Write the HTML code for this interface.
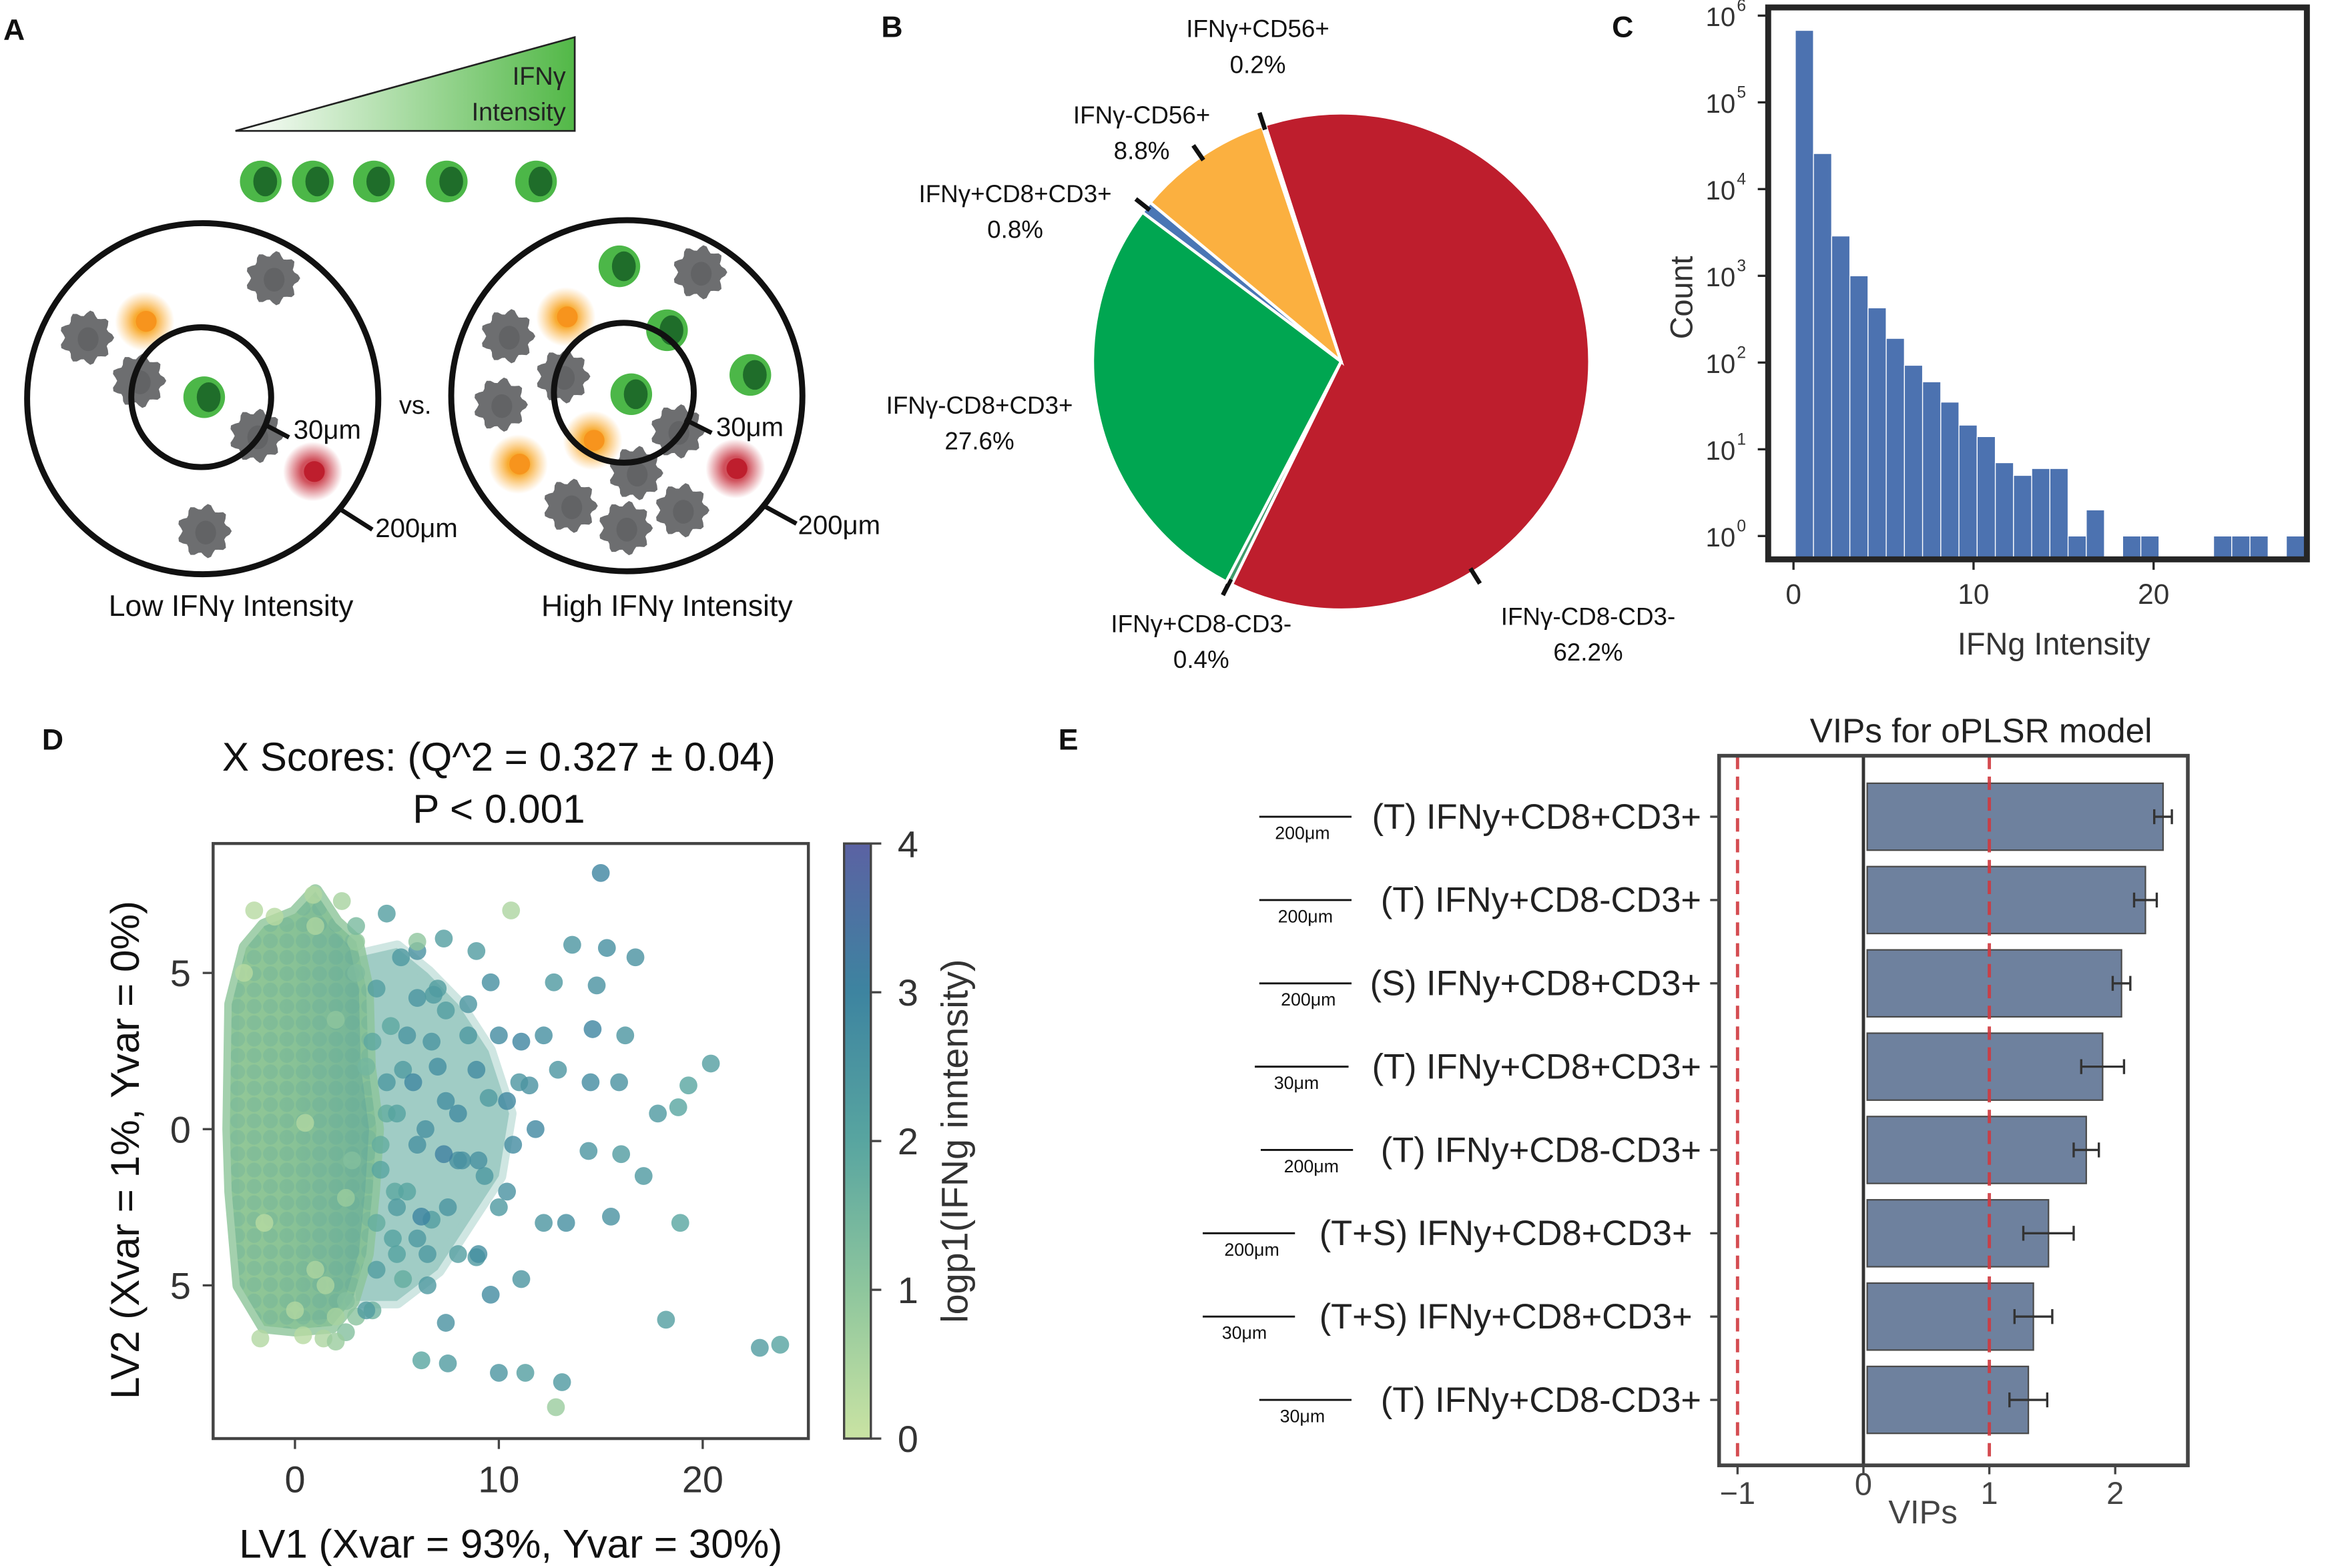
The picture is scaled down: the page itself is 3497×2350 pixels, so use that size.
<!DOCTYPE html>
<html><head><meta charset="utf-8">
<style>
html,body{margin:0;padding:0;background:#fff;}
svg{display:block;font-family:"Liberation Sans",Arial,sans-serif;}
</style></head>
<body>
<svg id="fig" width="3497" height="2350" viewBox="0 0 1568 1054" xmlns="http://www.w3.org/2000/svg">
<defs>
<linearGradient id="tri" x1="0" y1="0" x2="1" y2="0"><stop offset="0" stop-color="#fff"/><stop offset="1" stop-color="#52b847"/></linearGradient>
<radialGradient id="glowO"><stop offset="0.35" stop-color="#f7a21b" stop-opacity="0.9"/><stop offset="1" stop-color="#fbb040" stop-opacity="0"/></radialGradient>
<radialGradient id="glowR"><stop offset="0.4" stop-color="#c8323f" stop-opacity="0.85"/><stop offset="1" stop-color="#c8323f" stop-opacity="0"/></radialGradient>
<linearGradient id="cbar" x1="0" y1="1" x2="0" y2="0"><stop offset="0" stop-color="#c9e3a3"/><stop offset="0.25" stop-color="#8ec69d"/><stop offset="0.5" stop-color="#58a5a0"/><stop offset="0.75" stop-color="#3d84a0"/><stop offset="1" stop-color="#5b62a3"/></linearGradient>
<linearGradient id="coreG" x1="0" y1="0" x2="1" y2="0"><stop offset="0" stop-color="#93c897"/><stop offset="0.4" stop-color="#8ac396"/><stop offset="1" stop-color="#6fb198"/></linearGradient>
<pattern id="dots" width="11" height="11" patternUnits="userSpaceOnUse"><circle cx="5.5" cy="5.5" r="5" fill="#5aa59c" fill-opacity="0.25"/></pattern>
</defs>

<g font-weight="bold" font-size="20" fill="#111">
<text x="2" y="27">A</text>
<text x="592" y="25">B</text>
<text x="1083" y="25">C</text>
<text x="28" y="504">D</text>
<text x="711" y="504">E</text>
</g>

<!-- Panel A -->
<g id="panelA">
<polygon points="158,88 386,25 386,88" fill="url(#tri)" stroke="#222" stroke-width="1.2"/>
<text x="380" y="57" text-anchor="end" font-size="17" fill="#222">IFNγ</text>
<text x="380" y="81" text-anchor="end" font-size="17" fill="#222">Intensity</text>
<circle cx="136" cy="268" r="118" fill="none" stroke="#111" stroke-width="4"/>
<circle cx="421" cy="266" r="118" fill="none" stroke="#111" stroke-width="4"/>
<g id="cellsA"></g>
<circle cx="135" cy="267" r="47" fill="none" stroke="#111" stroke-width="4"/>
<circle cx="419" cy="264" r="47" fill="none" stroke="#111" stroke-width="4"/>
<g stroke="#111" stroke-width="3">
<line x1="177" y1="285" x2="194" y2="294"/><line x1="228" y1="342" x2="250" y2="356"/>
<line x1="460" y1="282" x2="478" y2="291"/><line x1="513" y1="340" x2="535" y2="352"/>
</g>
<g font-size="18" fill="#111">
<text x="197" y="295">30μm</text>
<text x="252" y="361">200μm</text>
<text x="481" y="293">30μm</text>
<text x="536" y="359">200μm</text>
<text x="268" y="278" font-size="17">vs.</text>
<text x="155" y="414" text-anchor="middle" font-size="20">Low IFNγ Intensity</text>
<text x="448" y="414" text-anchor="middle" font-size="20">High IFNγ Intensity</text>
</g>
</g>

<g id="panelB"></g>
<g id="panelC"></g>
<g id="panelD"></g>
<g id="panelE"></g>
</svg>

<script>
const NS="http://www.w3.org/2000/svg";
function mk(tag,attrs,parent,txt){const e=document.createElementNS(NS,tag);for(const k in attrs)e.setAttribute(k,attrs[k]);if(txt!==undefined)e.textContent=txt;parent.appendChild(e);return e;}

/* ---------- Panel A cells ---------- */
const greenCells=[[175,122],[210,122],[251,122],[300,122],[360,122],[137,267],[416,179],[448,222],[504,252],[424,265]];
const grayCells=[[183,187],[58,227],[93,256],[172,293],[137,357],[470,183],[341,226],[378,253],[336,272],[383,340],[420,355],[458,343],[427,318],[455,290]];
const orangeCells=[[97,216],[380,213],[398,296],[348,312]];
const redCells=[[210,317],[494,315]];
const gA=document.getElementById('cellsA');
grayCells.forEach(p=>{
  let pts=[];for(let i=0;i<48;i++){const a=i/48*Math.PI*2;const r=16.5+2*Math.cos(9*a);pts.push((p[0]+r*Math.cos(a)).toFixed(1)+','+(p[1]+r*Math.sin(a)).toFixed(1));}
  const e=mk('polygon',{points:pts.join(' '),fill:'#6d6e70'},gA);
  
  
  mk('ellipse',{cx:p[0]+1,cy:p[1]+1,rx:7,ry:8,fill:'#626365'},gA);
});
orangeCells.forEach(p=>{
  const e=mk('circle',{cx:p[0],cy:p[1],r:20,fill:'url(#glowO)'},gA);
  
  
  mk('circle',{cx:p[0]+1,cy:p[1],r:7,fill:'#f7941d'},gA);
});
redCells.forEach(p=>{
  const e=mk('circle',{cx:p[0],cy:p[1],r:20,fill:'url(#glowR)'},gA);
  
  
  mk('circle',{cx:p[0]+1,cy:p[1],r:7,fill:'#be1e2d'},gA);
});
greenCells.forEach(p=>{
  const e=mk('circle',{cx:p[0],cy:p[1],r:14,fill:'#4cb748'},gA);
  
  
  mk('ellipse',{cx:p[0]+3,cy:p[1],rx:8,ry:10,fill:'#1f6d2a'},gA);
});

/* ---------- Panel B pie ---------- */
const pieLabels=["IFNγ-CD8-CD3-","IFNγ+CD8-CD3-","IFNγ-CD8+CD3+","IFNγ+CD8+CD3+","IFNγ-CD56+","IFNγ+CD56+"];
const pieValues=[62.2,0.4,27.6,0.8,8.8,0.2];
const pieColors=["#be1e2d","#3f9a6a","#00a651","#4a76b5","#fbb040","#9aa8c8"];
const pieLabelPos=[[1067,420],[807,425],[658,278],[682,136],[767,83],[845,25]];
(function(){
  const g=document.getElementById('panelB');const cx=901,cy=243,R=167;
  let start=-17.8*Math.PI/180;const total=pieValues.reduce((a,b)=>a+b,0);
  const tickAng=[148,null,null,null,null,null];
  pieValues.forEach((v,i)=>{
    const sweep=v/total*2*Math.PI;const a0=start,a1=start+sweep;
    const x0=cx+R*Math.sin(a0),y0=cy-R*Math.cos(a0),x1=cx+R*Math.sin(a1),y1=cy-R*Math.cos(a1);
    const d=`M${cx},${cy} L${x0},${y0} A${R},${R} 0 ${sweep>Math.PI?1:0} 1 ${x1},${y1} Z`;
    const e=mk('path',{d:d,fill:pieColors[i],stroke:'#fff','stroke-width':2},g);
    
    
    const am=tickAng[i]!==null?tickAng[i]*Math.PI/180:(a0+a1)/2;
    if(i!==2){
      const tx0=cx+(R-3)*Math.sin(am),ty0=cy-(R-3)*Math.cos(am),tx1=cx+(R+9)*Math.sin(am),ty1=cy-(R+9)*Math.cos(am);
      mk('line',{x1:tx0,y1:ty0,x2:tx1,y2:ty1,stroke:'#111','stroke-width':3},g);
    }
    const p=pieLabelPos[i];
    const t=mk('text',{x:p[0],y:p[1],'text-anchor':'middle','font-size':16.5,fill:'#111'},g,pieLabels[i]);
    
    
    const t2=mk('text',{x:p[0],y:p[1]+24,'text-anchor':'middle','font-size':16.5,fill:'#111'},g,v.toFixed(1)+'%');
    
    
    start=a1;
  });
})();

/* ---------- Panel C histogram ---------- */
const histCounts=[676000,25700,2880,1000,427,190,93,60,35,19,14,7,5,6,6,1,2,0,1,1,0,0,0,1,1,1,0,1];
const histBinStart=0.1, histBinWidth=1.01;
const histXTicks=[0,10,20];
const histYTicks=[0,1,2,3,4,5,6];
(function(){
  const g=document.getElementById('panelC');
  const L=1188,T=5,Rr=1550,B=376;
  const xs=v=>1205+v*12.1, ys=lg=>360.3-lg*58.3;
  histCounts.forEach((c,i)=>{
    if(c<=0)return;
    const x0=xs(histBinStart+i*histBinWidth),x1=xs(histBinStart+(i+1)*histBinWidth);
    const y=ys(Math.log10(c));
    const e=mk('rect',{x:x0,y:y,width:x1-x0,height:B-y,fill:'#4c72b0',stroke:'#fff','stroke-width':0.6},g);
    
    
  });
  mk('rect',{x:L,y:T,width:Rr-L,height:B-T,fill:'none',stroke:'#262626','stroke-width':4},g);
  histXTicks.forEach(v=>{
    mk('line',{x1:xs(v),y1:B,x2:xs(v),y2:B+7,stroke:'#262626','stroke-width':1.5},g);
    const t=mk('text',{x:xs(v),y:406,'text-anchor':'middle','font-size':19,fill:'#333'},g,String(v));
    
    
  });
  histYTicks.forEach(k=>{
    mk('line',{x1:L-7,y1:ys(k),x2:L,y2:ys(k),stroke:'#262626','stroke-width':1.5},g);
    const t=mk('text',{x:1166,y:ys(k)+7,'text-anchor':'end','font-size':18,fill:'#333'},g,'10');
    
    
    mk('text',{x:1167,y:ys(k)-3,'font-size':11,fill:'#333'},g,String(k));
  });
  const xl=mk('text',{x:1380,y:440,'text-anchor':'middle','font-size':21,fill:'#333'},g,'IFNg Intensity');
  
  
  const yl=mk('text',{x:0,y:0,transform:'translate(1137,200) rotate(-90)','text-anchor':'middle','font-size':21,fill:'#333'},g,'Count');
  
  
})();

/* ---------- Panel D scatter ---------- */
const scX=[15,13.6,15.3,16.7,10.6,12.7,14.8,14.6,16.2,20.4,19.3,17.8,18.8,15.9,14.5,14.4,16,17.1,15.5,18.9,13.3,12.2,18.2,22.8,23.8,13.1,12.8,10,11.3,7.5,6.2,0.4,1.4,-1.7,7.4,9.6,11.1,8.9,10.4,11.8,11.1,9.6,7.3,6,4.5,0.9,2.3,8.9,10.4,8.2,6.7,5.3,3.8,8.9,12.2,12.9,11.5,10.7,9.3,7.4,6.7,5.3,4.2,4.9,6.4,7.4,6,4.7,3,5,2.5,4,6.5,8,3.5,2,5.5,7,3,4.5,6,2.8,9,10,8.5,1,-1,-2.5,0,2,3,1.5,-1.5,0.5,2.5,-2,1,4,5.5,4.5,6,5,7,8,7.5,6.5,4,9,8.5,5,3.8,4.2,6.8,5.8,7.3,6.2,4.8,3.5,2.5,5.2,9.5,8,10,11,6,3,2];
const scY=[8.2,5.9,5.8,5.5,7,4.7,4.6,3.2,3,2.1,1.4,0.5,0.7,1.5,1.5,-0.7,-0.8,-1.5,-2.8,-3,-3,-3,-6.1,-7,-6.9,-8.1,-8.9,-7.8,-7.8,-7.5,-7.4,-6.6,-6.7,-6.7,-6.2,-5.3,-4.8,-4.1,-2,0,2.8,4.7,6.1,5.7,6.9,7.5,7.3,1.9,0.9,-1,-2.9,-4.8,-5.8,5.7,3,1.9,1.4,-0.5,-1.5,0.9,2.8,1.9,-0.5,-2,0,3.8,4.2,3.3,5,-4,-5.5,-3,-5,-1,2,3.5,-2,4.5,-6,0.5,-3.5,-1,-4,3,4,6.5,6.8,5,-5.8,-6,6,-5,-3,0.2,-2.2,7,-4.5,4.5,3,1.5,-0.5,-2.5,2,0.5,-2.5,-4,-4.5,-1,3,0.5,2.8,-1.3,4.3,1.5,-0.8,-2.8,-3.5,-5.8,-6.5,5.5,1,-4,-2.5,1.5,6,6.5,-6.8];
const scC=[3,2.5,2.7,2.6,0.5,2.4,2.6,3,2.5,2.2,2,2.4,2,2.6,2.8,2.5,2.3,2.4,2.6,2,2.7,2.5,2.2,2.3,2.1,2.4,0.8,2.5,2.2,2.3,2,0.3,0.5,0.4,2.6,2.8,2.5,2.4,2.6,2.9,3,2.7,2.2,2.6,2.2,0.4,0.6,2.8,2.9,2.6,2.2,1.8,1.6,2.3,2.7,2.5,2.6,2.8,2.4,2.7,2.5,2.3,1.8,1.9,2.6,2.2,2.5,1.9,1.3,2.1,1.2,1.8,2.4,2.6,1.5,1,2,2.2,1.1,1.8,2.4,1.2,2.7,2.8,2.5,0.5,0.3,0.3,0.4,0.6,0.9,0.5,0.3,0.4,0.8,0.3,0.5,2.2,2.5,2.4,2.6,2.3,2.7,2.8,2.5,2.4,2.2,2.6,2.4,2.1,1.9,2,2.3,2.9,3.1,3,2.1,2.3,1.2,2.4,2.3,2.2,2.4,2.5,1,1.4,0.8];
const coreX=[-3.1,-2.4,-1.5,0,1,2,3,3.5,3.6,4,3.8,3.5,2.8,1.8,0,-1.5,-2.7,-3.1,-3.2];
const coreY=[4,5.8,6.5,6.9,7.6,6.6,6,4.5,2,0,-2,-4,-5.5,-6.3,-6.4,-6.3,-5,-2,0];
const tealX=[3,5,6.5,8,9.5,10.5,10,8.5,7,5,3,2.5];
const tealY=[5.5,5.8,5,4,2.5,0.5,-1.5,-3,-4.5,-5.5,-5.5,0];
const cbTicks=[0,1,2,3,4];
const dXTicks=[0,10,20];
const dYTicks=[5,0,-5];
function cmap(v){
  const stops=[[0,[201,227,163]],[1,[142,198,157]],[2,[88,165,160]],[3,[61,132,160]],[4,[91,98,163]]];
  v=Math.max(0,Math.min(4,v));const i=Math.min(3,Math.floor(v));const f=v-i;
  const a=stops[i][1],b=stops[i+1][1];
  return 'rgb('+a.map((c,k)=>Math.round(c+(b[k]-c)*f)).join(',')+')';
}
(function(){
  const g=document.getElementById('panelD');
  const L=143,T=567,Rr=543,B=967;
  const xs=v=>198+v*13.7, ys=v=>759-v*21;
  function poly(X,Y){let d='';X.forEach((x,i)=>{d+=(i?'L':'M')+xs(x).toFixed(1)+','+ys(Y[i]).toFixed(1);});return d+'Z';}
  const tp=poly(tealX,tealY);
  const tr=mk('path',{d:tp,fill:'#62aba0',opacity:0.6,stroke:'#62aba0','stroke-width':10,'stroke-linejoin':'round','stroke-opacity':0.5},g);
  
  
  const cp=poly(coreX,coreY);
  const cr=mk('path',{d:cp,fill:'url(#coreG)',stroke:'#8cc498','stroke-width':10,'stroke-linejoin':'round','stroke-opacity':0.8},g);
  
  
  mk('path',{d:cp,fill:'url(#dots)'},g);
  scX.forEach((x,i)=>{
    const e=mk('circle',{cx:xs(x),cy:ys(scY[i]),r:6,fill:cmap(scC[i]),opacity:0.8},g);
    
    
  });
  mk('rect',{x:L,y:T,width:Rr-L,height:B-T,fill:'none',stroke:'#444','stroke-width':2},g);
  dXTicks.forEach(v=>{
    mk('line',{x1:xs(v),y1:B,x2:xs(v),y2:B+7,stroke:'#444','stroke-width':1.5},g);
    const t=mk('text',{x:xs(v),y:1003,'text-anchor':'middle','font-size':25,fill:'#333'},g,String(v));
    
    
  });
  dYTicks.forEach(v=>{
    mk('line',{x1:L-7,y1:ys(v),x2:L,y2:ys(v),stroke:'#444','stroke-width':1.5},g);
    const t=mk('text',{x:128,y:ys(v)+9,'text-anchor':'end','font-size':25,fill:'#333'},g,String(Math.abs(v)));
    
    
  });
  const cb=mk('rect',{x:567,y:567,width:18,height:400,fill:'url(#cbar)',stroke:'#444','stroke-width':1.5},g);
  
  
  cbTicks.forEach(v=>{
    const y=967-v*100;
    mk('line',{x1:585,y1:y,x2:592,y2:y,stroke:'#444','stroke-width':1.5},g);
    const t=mk('text',{x:603,y:y+9,'font-size':25,fill:'#333'},g,String(v));
    
    
  });
  const cbl=mk('text',{x:0,y:0,transform:'translate(650,767) rotate(-90)','text-anchor':'middle','font-size':25,fill:'#333'},g,'logp1(IFNg inntensity)');
  
  
  const t1=mk('text',{x:335,y:518,'text-anchor':'middle','font-size':27,fill:'#111'},g,'X Scores: (Q^2 = 0.327 ± 0.04)');
  
  
  const t2=mk('text',{x:335,y:553,'text-anchor':'middle','font-size':27,fill:'#111'},g,'P < 0.001');
  
  
  const xl=mk('text',{x:343,y:1047,'text-anchor':'middle','font-size':27,fill:'#111'},g,'LV1 (Xvar = 93%, Yvar = 30%)');
  
  
  const yl=mk('text',{x:0,y:0,transform:'translate(93,773) rotate(-90)','text-anchor':'middle','font-size':27,fill:'#111'},g,'LV2 (Xvar = 1%, Yvar = 0%)');
  
  
})();

/* ---------- Panel E VIP bars ---------- */
const vipLabels=["(T) IFNy+CD8+CD3+","(T) IFNy+CD8-CD3+","(S) IFNy+CD8+CD3+","(T) IFNy+CD8+CD3+","(T) IFNy+CD8-CD3+","(T+S) IFNy+CD8+CD3+","(T+S) IFNy+CD8+CD3+","(T) IFNy+CD8-CD3+"];
const vipScales=["200μm","200μm","200μm","30μm","200μm","200μm","30μm","30μm"];
const vipValues=[2.38,2.24,2.05,1.9,1.77,1.47,1.35,1.31];
const vipErrors=[0.07,0.09,0.07,0.17,0.1,0.2,0.15,0.15];
const vipXTicks=[-1,0,1,2];
(function(){
  const g=document.getElementById('panelE');
  const L=1155,T=508,Rr=1470,B=985;
  const xs=v=>1252+v*84.6;
  const rowY=i=>549+i*56;
  const labelEnd=[1143,1143,1143,1143,1143,1137,1137,1143];
  const lineX=[[846,908],[846,908],[846,908],[843,906],[847,909],[808,870],[808,870],[846,908]];
  const scaleX=[875,877,879,871,881,841,836,875];
  vipValues.forEach((v,i)=>{
    const y=rowY(i);
    const e=mk('rect',{x:xs(0.03),y:y-22.5,width:xs(v)-xs(0.03),height:45,fill:'#6e819e',stroke:'#4a4a4a','stroke-width':1},g);
    
    
    const x0=xs(v-vipErrors[i]),x1=xs(v+vipErrors[i]);
    mk('line',{x1:x0,y1:y,x2:x1,y2:y,stroke:'#333','stroke-width':1.5},g);
    mk('line',{x1:x0,y1:y-5,x2:x0,y2:y+5,stroke:'#333','stroke-width':1.5},g);
    mk('line',{x1:x1,y1:y-5,x2:x1,y2:y+5,stroke:'#333','stroke-width':1.5},g);
    mk('line',{x1:L-6,y1:y,x2:L,y2:y,stroke:'#444','stroke-width':1.5},g);
    const t=mk('text',{x:labelEnd[i],y:y+8,'text-anchor':'end','font-size':23.5,fill:'#222'},g,vipLabels[i]);
    
    
    const lx=lineX[i];
    mk('line',{x1:lx[0],y1:y,x2:lx[1],y2:y,stroke:'#111','stroke-width':1.3},g);
    const s=mk('text',{x:scaleX[i],y:y+15,'text-anchor':'middle','font-size':12,fill:'#111'},g,vipScales[i]);
    
    
  });
  mk('line',{x1:xs(0),y1:T,x2:xs(0),y2:B,stroke:'#333','stroke-width':2.2},g);
  [-1,1].forEach(v=>{
    const e=mk('line',{x1:xs(v),y1:T,x2:xs(v),y2:B,stroke:'#d0393f','stroke-width':2.2,'stroke-dasharray':'9,5',opacity:0.9},g);
    
    
  });
  mk('rect',{x:L,y:T,width:Rr-L,height:B-T,fill:'none',stroke:'#444','stroke-width':2.5},g);
  vipXTicks.forEach(v=>{
    mk('line',{x1:xs(v),y1:B,x2:xs(v),y2:B+6,stroke:'#444','stroke-width':1.5},g);
    const t=mk('text',{x:xs(v),y:v===0?1005:1011,'text-anchor':'middle','font-size':21,fill:'#444'},g,v<0?'−'+Math.abs(v):String(v));
    
    
  });
  const xl=mk('text',{x:1292,y:1024,'text-anchor':'middle','font-size':22,fill:'#444'},g,'VIPs');
  
  
  const tt=mk('text',{x:1331,y:499,'text-anchor':'middle','font-size':23,fill:'#222'},g,'VIPs for oPLSR model');
  
  
})();
</script>
</body></html>
